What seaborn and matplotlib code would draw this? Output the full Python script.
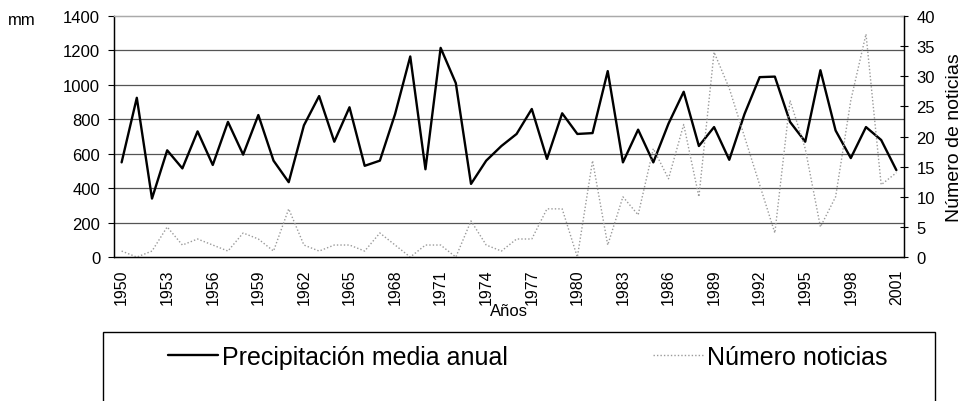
import matplotlib
matplotlib.use("Agg")
from matplotlib import pyplot as plt
from matplotlib.patches import Rectangle
import seaborn as sns
import numpy as np
import pandas as pd

years = list(range(1950, 2002))
precip = [550, 925, 340, 620, 515, 730, 535, 785, 595, 825, 560, 435, 765, 935, 670, 870, 530, 560,
          830, 1165, 510, 1215, 1010, 425, 560, 645, 715, 860, 570, 835, 715, 720, 1080, 550, 740,
          550, 775, 960, 645, 755, 565, 830, 1045, 1048, 785, 670, 1085, 735, 575, 755, 680, 505]
noticias = [1, 0, 1, 5, 2, 3, 2, 1, 4, 3, 1, 8, 2, 1, 2, 2, 1, 4, 2, 0, 2, 2, 0, 6, 2, 1, 3, 3, 8, 8,
            0, 16, 2, 10, 7, 18, 13, 22, 10, 34, 28, 20, 12, 4, 26, 18, 5, 10, 26, 37, 12, 14]

df = pd.DataFrame({"year": years, "precip": precip, "noticias": noticias})

sns.set_style("white")
plt.rcParams['font.family'] = ['Liberation Sans', 'DejaVu Sans']
plt.rcParams.update({'text.color': 'black', 'axes.labelcolor': 'black',
                     'xtick.color': 'black', 'ytick.color': 'black'})

fig = plt.figure(figsize=(9.63, 4.02), dpi=100)
ax = fig.add_axes([0.1184, 0.358, 0.8203, 0.5997])
ax2 = ax.twinx()

# gridlines
for v in range(200, 1400, 200):
    ax.axhline(v, color='#555555', lw=0.9, zorder=0)

sns.lineplot(data=df, x="year", y="precip", ax=ax, color='black', lw=1.7, legend=False)
sns.lineplot(data=df, x="year", y="noticias", ax=ax2, color='#9a9a9a', lw=1.0, ls=(0, (1, 1.5)),
             legend=False)

ax.set_xlim(1949.5, 2001.5)
ax.set_ylim(0, 1400)
ax2.set_ylim(0, 40)
ax.set_yticks(range(0, 1401, 200))
ax2.set_yticks(range(0, 41, 5))
ax.set_xticks(years)
ax.set_xticklabels([str(y) if (y - 1950) % 3 == 0 else '' for y in years], rotation=90, fontsize=11.5)
ax.tick_params(axis='x', length=5, width=0.8, direction='out', pad=3)
ax.tick_params(axis='y', labelsize=12, length=4, width=0.8, direction='out', pad=6)
ax2.tick_params(axis='y', labelsize=12, length=6, width=0.8, direction='inout', pad=6)

ax.set_xlabel("Años", fontsize=12)
ax.xaxis.set_label_coords(0.5, -0.192)
ax.set_ylabel("")
ax2.set_ylabel("Número de noticias", fontsize=14, labelpad=8)
fig.text(0.008, 0.95, "mm", fontsize=12, ha='left', va='center')

for a in (ax, ax2):
    a.spines['top'].set_color('#aaaaaa')
    a.spines['top'].set_linestyle((0, (1, 1)))
    a.spines['left'].set_color('black')
    a.spines['right'].set_color('black')
    a.spines['bottom'].set_color('black')
    for s in a.spines.values():
        s.set_linewidth(0.9)

# legend box
fig.patches.append(Rectangle((103 / 963, -0.05), 832 / 963, 0.05 + (1 - 333 / 402), transform=fig.transFigure,
                             fill=False, edgecolor='black', lw=1.0))
h1 = plt.Line2D([], [], color='black', lw=1.7)
h2 = plt.Line2D([], [], color='#9a9a9a', lw=1.0, ls=(0, (1, 1.5)))
fig.legend([h1, h2], ["Precipitación media anual", "Número noticias"], loc='center',
           bbox_to_anchor=(0.548, 1 - 358 / 402), ncol=2, frameon=False, fontsize=18,
           handlelength=2.0, handletextpad=0.15, columnspacing=5.8)

fig.savefig("out.png", dpi=100)
